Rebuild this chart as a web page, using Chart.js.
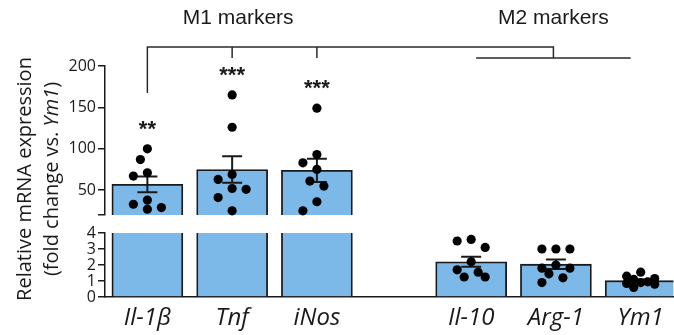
<!DOCTYPE html>
<html>
<head>
<meta charset="utf-8">
<script src="https://cdn.jsdelivr.net/npm/chart.js@4.4.0/dist/chart.umd.min.js"></script>
<style>
  body { margin: 0; background: #fff; }
  #wrap { position: relative; width: 674px; height: 335px; overflow: hidden; }
  #wrap canvas { position: absolute; left: 0; top: 0; }
  #ytitle {
    position: absolute; left: -115px; top: 154px; width: 300px; height: 50px;
    line-height: 25px; text-align: center; white-space: nowrap;
    font: 20px 'Open Sans'; color: #1a1a1a; transform: rotate(-90deg);
  }
</style>
</head>
<body>
<div id="wrap">
  <canvas id="upper" width="678" height="335"></canvas>
  <canvas id="lower" width="678" height="335"></canvas>
  <div id="ytitle">Relative mRNA expression<br>(fold change vs. <i>Ym1</i>)</div>
</div>
<script>
// data
const m1Genes = ['Il-1β', 'Tnf', 'iNos'];
const m2Genes = ['Il-10', 'Arg-1', 'Ym1'];
const meanExpr = [57, 75, 74, 2.2, 2.05, 1.02];
const semExpr = [9.5, 16, 14, 0.31, 0.3, 0.08];
const il1bPoints = [100, 87, 71, 67, 38, 33, 29, 27];
const tnfPoints = [165, 126, 69, 63, 52, 51, 41, 25];
const inosPoints = [149, 93, 83, 75, 61, 55, 36, 25];
const il10Points = [3.6, 3.5, 3.1, 2.2, 1.7, 1.55, 1.25, 1.25];
const arg1Points = [3.0, 3.0, 3.0, 2.0, 1.8, 1.8, 1.45, 1.2, 0.9];
const ym1Points = [1.55, 1.3, 1.15, 1.1, 0.95, 0.9, 0.85, 0.8, 0.6];
const stars = ['**', '***', '***', '', '', ''];
const upperTicks = [50, 100, 150, 200];
const lowerTicks = [0, 1, 2, 3, 4];

const genes = m1Genes.concat(m2Genes);
const replicates = [il1bPoints, tnfPoints, inosPoints, il10Points, arg1Points, ym1Points];

const GROUP_GAP = 0.82;      // extra room between the M1 and M2 groups
const AXIS_LEFT = 105;
const INK = '#1a1a1a';
const BAR_BLUE = '#7cb9e8';

const slot = i => i + (i >= m1Genes.length ? GROUP_GAP : 0);

function pointData() {
    const pts = [];
    replicates.forEach((vals, i) => vals.forEach(v => pts.push({x: slot(i), y: v})));
    return pts;
}

// error bars, drawn right after the bars so the dots sit on top
const errorBars = {
    id: 'errorBars',
    afterDatasetDraw(chart, args) {
        if (args.index !== 0) return;
        const {ctx, chartArea, scales: {x, y}} = chart;
        ctx.save();
        ctx.beginPath();
        ctx.rect(chartArea.left, chartArea.top, chartArea.right - chartArea.left, chartArea.bottom - chartArea.top);
        ctx.clip();
        ctx.strokeStyle = INK;
        ctx.lineWidth = 2;
        meanExpr.forEach((m, i) => {
            const cx = x.getPixelForValue(slot(i));
            const hi = y.getPixelForValue(m + semExpr[i]);
            const lo = y.getPixelForValue(m - semExpr[i]);
            ctx.beginPath();
            ctx.moveTo(cx, hi); ctx.lineTo(cx, lo);
            ctx.moveTo(cx - 10, hi); ctx.lineTo(cx + 10, hi);
            ctx.moveTo(cx - 10, lo); ctx.lineTo(cx + 10, lo);
            ctx.stroke();
        });
        ctx.restore();
    }
};

// brackets, group titles and significance stars (upper panel only)
const annotations = {
    id: 'annotations',
    afterDraw(chart) {
        const {ctx, chartArea, scales: {x, y}} = chart;
        const top = chartArea.top;
        const px = i => x.getPixelForValue(slot(i));
        const m2a = px(3) + 5, m2b = px(5) - 10, join = (m2a + m2b) / 2;
        ctx.save();
        ctx.strokeStyle = '#2a2a2a';
        ctx.lineWidth = 1.5;
        ctx.beginPath();
        ctx.moveTo(px(0), top + 27); ctx.lineTo(px(0), top - 19);
        ctx.lineTo(join, top - 19); ctx.lineTo(join, top - 8);
        ctx.moveTo(px(1), top - 19); ctx.lineTo(px(1), top - 8);
        ctx.moveTo(px(2), top - 19); ctx.lineTo(px(2), top - 8);
        ctx.moveTo(m2a, top - 8); ctx.lineTo(m2b, top - 8);
        ctx.stroke();

        ctx.fillStyle = '#1a1a1a';
        ctx.textAlign = 'center';
        ctx.textBaseline = 'middle';
        ctx.font = "21px 'Liberation Sans'";
        ctx.fillText('M1 markers', px(1) + 6, top - 48);
        ctx.fillText('M2 markers', join, top - 48);

        ctx.font = "bold 22px 'Liberation Sans'";
        ctx.textBaseline = 'alphabetic';
        stars.forEach((s, i) => {
            if (!s) return;
            const peak = y.getPixelForValue(Math.max(...replicates[i]));
            ctx.fillText(s, px(i), peak - 13);
        });
        ctx.restore();
    }
};

function xScale(show) {
    const opts = {
        type: 'linear',
        min: -0.5,
        max: 6.206,
        offset: false,
        display: show,
        afterBuildTicks: s => { s.ticks = genes.map((g, i) => ({value: slot(i)})); },
        ticks: {
            autoSkip: false,
            maxRotation: 0,
            padding: 7,
            color: INK,
            font: {family: 'Open Sans', size: 24, style: 'italic'},
            callback: (v, i) => genes[i]
        },
        grid: {display: false, drawTicks: false, offset: false},
        border: {display: show, color: INK, width: 1.5}
    };
    if (show) opts.afterFit = s => { s.height = 38; };
    return opts;
}

function yScale(min, max, ticks) {
    return {
        min: min,
        max: max,
        afterBuildTicks: s => { s.ticks = (min > 0 ? [min] : []).concat(ticks).map(v => ({value: v})); },
        afterFit: s => { s.width = AXIS_LEFT; },
        ticks: {
            autoSkip: false,
            padding: 2,
            color: INK,
            font: {family: 'Open Sans', size: 16},
            callback: v => ticks.includes(v) ? v : ''
        },
        grid: {drawOnChartArea: false, drawTicks: true, tickLength: 7, color: INK, lineWidth: 1.5},
        border: {color: INK, width: 1.5}
    };
}

function makeChart(id, yOpts, showX, padding, plugins) {
    return new Chart(document.getElementById(id), {
        type: 'bar',
        data: {
            datasets: [{
                type: 'bar',
                data: meanExpr.map((m, i) => ({x: slot(i), y: m})),
                backgroundColor: BAR_BLUE,
                borderColor: INK,
                borderWidth: 1.8,
                barThickness: 71,
                clip: 0,
                order: 2
            }, {
                type: 'scatter',
                data: pointData(),
                pointRadius: 4.6,
                pointBackgroundColor: '#000',
                pointBorderWidth: 0,
                clip: 6,
                order: 1
            }]
        },
        options: {
            responsive: false,
            animation: false,
            devicePixelRatio: 1,
            layout: {padding: padding},
            scales: {x: xScale(showX), y: yOpts},
            plugins: {legend: {display: false}, tooltip: {enabled: false}}
        },
        plugins: plugins
    });
}

const upper = makeChart('upper', yScale(20, 200, upperTicks), false,
    {top: 66, bottom: 120, left: 0, right: 0}, [errorBars, annotations]);
const lower = makeChart('lower', yScale(0, 4, lowerTicks), true,
    {top: 233, bottom: 0, left: 0, right: 0}, [errorBars]);

// spread the replicate dots sideways (simple beeswarm, capped width, overlap allowed when crowded)
function swarm(chart) {
    const xs = chart.scales.x, ys = chart.scales.y;
    return (vals, i) => {
        const cx = xs.getPixelForValue(slot(i));
        const placed = [];
        const out = [];
        vals.map((v, k) => k).sort((a, b) => vals[b] - vals[a]).forEach(k => {
            const py = ys.getPixelForValue(vals[k]);
            let best = 0, bestGap = -1;
            for (let n = 0; n < 5; n++) {
                const off = (n % 2 ? -1 : 1) * Math.ceil(n / 2) * 7;
                const gap = placed.reduce((g, p) => Math.min(g, Math.hypot(p.x - cx - off, p.y - py)), Infinity);
                if (gap >= 12) { best = off; bestGap = gap; break; }
                if (gap > bestGap) { best = off; bestGap = gap; }
            }
            placed.push({x: cx + best, y: py});
            out[k] = xs.getValueForPixel(cx + best);
        });
        return out;
    };
}

const swUp = swarm(upper), swLo = swarm(lower);
const jittered = [];
replicates.forEach((vals, i) => {
    const xsOut = (i < m1Genes.length ? swUp : swLo)(vals, i);
    vals.forEach((v, k) => jittered.push({x: xsOut[k], y: v}));
});
[upper, lower].forEach(c => {
    c.data.datasets[1].data = jittered.map(p => ({x: p.x, y: p.y}));
    c.update('none');
});
</script>
</body>
</html>
